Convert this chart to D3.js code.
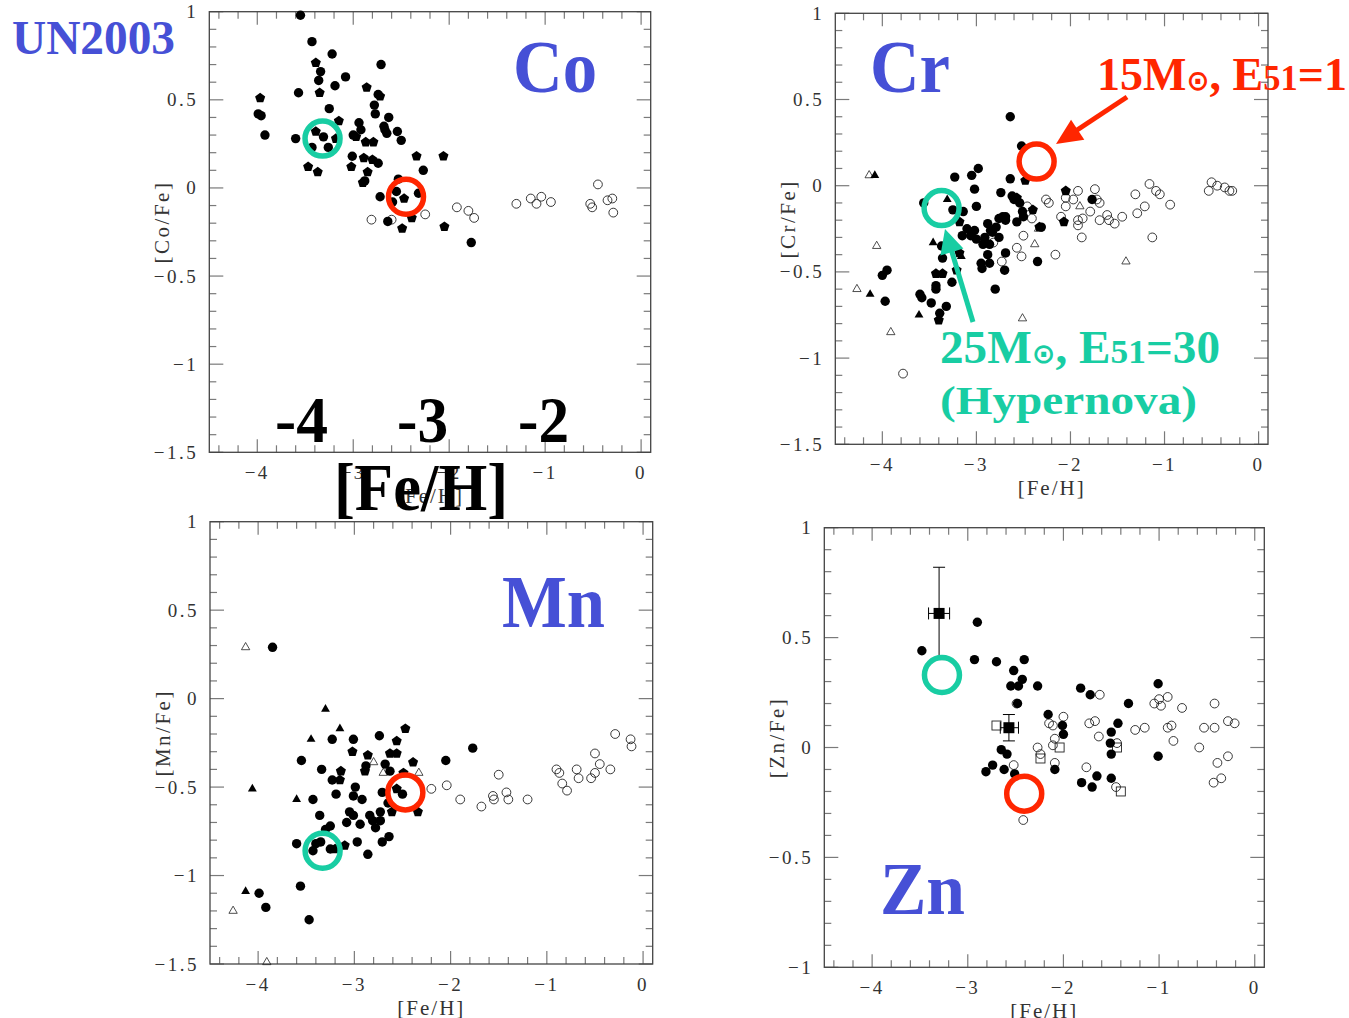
<!DOCTYPE html>
<html><head><meta charset="utf-8">
<script src="https://cdn.jsdelivr.net/npm/d3@7"></script>
<style>body{margin:0;background:#fff}svg{display:block}</style>
</head><body>
<script>
// ---------------- DATA ----------------
const xTickLabels = [-4,-3,-2,-1,0];
const yTicksA = [1,0.5,0,-0.5,-1,-1.5];
const yTicksZn = [1,0.5,0,-0.5,-1];

// Co panel
const coFilled = [[-3.55,0.98],[-3.43,0.83],[-3.22,0.76],[-3.34,0.66],[-3.36,0.61],[-3.08,0.63],[-2.71,0.70],[-3.19,0.58],[-3.57,0.54],[-2.74,0.53],[-3.99,0.42],[-3.96,0.41],[-3.92,0.30],[-3.25,0.45],[-2.78,0.47],[-2.77,0.42],[-2.94,0.37],[-2.63,0.40],[-2.68,0.35],[-2.67,0.33],[-2.65,0.31],[-2.92,0.33],[-2.54,0.32],[-2.50,0.27],[-3.00,0.30],[-3.60,0.28],[-3.31,0.29],[-3.26,0.23],[-3.43,0.23],[-3.01,0.18],[-2.74,0.14],[-2.88,0.04],[-2.27,0.10],[-2.53,0.05],[-2.55,-0.02],[-2.32,-0.03],[-2.72,-0.05],[-2.59,-0.08],[-2.64,-0.19],[-1.77,-0.31]];
const coPent = [[-3.39,0.71],[-3.35,0.54],[-2.86,0.57],[-2.72,0.52],[-3.97,0.51],[-3.15,0.38],[-2.97,0.29],[-3.39,0.32],[-3.18,0.28],[-2.87,0.26],[-2.79,0.26],[-2.89,0.17],[-2.80,0.16],[-3.02,0.12],[-3.47,0.12],[-3.37,0.09],[-2.85,0.09],[-2.90,0.03],[-2.34,0.18],[-2.06,0.18],[-2.47,-0.06],[-2.39,-0.17],[-2.49,-0.23],[-2.05,-0.22]];
const coOpen = [[-2.81,-0.18],[-2.60,-0.18],[-2.25,-0.15],[-1.92,-0.11],[-1.80,-0.13],[-1.74,-0.17],[-1.30,-0.09],[-1.15,-0.06],[-1.09,-0.09],[-1.04,-0.05],[-0.94,-0.08],[-0.53,-0.09],[-0.51,-0.11],[-0.45,0.02],[-0.35,-0.07],[-0.30,-0.06],[-0.29,-0.14]];

// Cr panel
const crFilled = [[-2.64,0.40],[-2.52,0.23],[-2.98,0.10],[-3.05,0.06],[-3.23,0.05],[-2.64,0.04],[-3.02,-0.02],[-2.74,-0.04],[-2.62,-0.06],[-2.60,-0.08],[-2.54,-0.10],[-3.00,-0.12],[-3.56,-0.10],[-3.25,-0.14],[-3.14,-0.15],[-2.51,-0.15],[-2.50,-0.18],[-2.69,-0.18],[-2.72,-0.18],[-2.76,-0.19],[-2.57,-0.21],[-3.10,-0.25],[-3.02,-0.26],[-2.88,-0.22],[-2.79,-0.24],[-2.69,-0.20],[-2.31,-0.24],[-3.15,-0.29],[-3.06,-0.29],[-3.00,-0.31],[-2.91,-0.30],[-2.85,-0.26],[-2.83,-0.27],[-2.76,-0.30],[-2.86,-0.34],[-2.93,-0.34],[-3.37,-0.35],[-2.88,-0.40],[-2.69,-0.39],[-3.36,-0.42],[-2.95,-0.45],[-2.86,-0.45],[-2.35,-0.44],[-2.70,-0.49],[-2.94,-0.48],[-3.43,-0.58],[-3.43,-0.60],[-3.26,-0.56],[-2.80,-0.60],[-3.95,-0.49],[-4.00,-0.52],[-3.97,-0.67],[-3.60,-0.63],[-3.58,-0.65],[-3.48,-0.68],[-3.32,-0.70],[-3.39,-0.74],[-1.77,-0.08]];
const crPent = [[-2.48,0.03],[-2.57,-0.07],[-2.40,-0.14],[-3.18,-0.21],[-3.18,-0.39],[-3.43,-0.51],[-3.36,-0.51],[-3.21,-0.49],[-3.40,-0.78],[-2.05,-0.03],[-2.07,-0.21],[-2.33,-0.24]];
const crTriFilled = [[-4.08,0.06],[-4.13,-0.63],[-3.61,-0.75],[-3.46,-0.33],[-3.31,-0.08],[-3.16,-0.41]];
const crTriOpen = [[-4.14,0.06],[-4.06,-0.35],[-4.27,-0.60],[-3.91,-0.85],[-2.38,-0.34],[-2.34,-0.25],[-1.41,-0.44],[-2.51,-0.77],[-1.90,-0.12]];
const crOpen = [[-3.78,-1.09],[-2.16,-0.40],[-2.52,-0.41],[-2.57,-0.36],[-2.50,-0.29],[-2.73,-0.44],[-2.82,-0.33],[-2.41,-0.19],[-2.46,-0.12],[-2.26,-0.08],[-2.23,-0.10],[-2.10,-0.18],[-2.05,-0.07],[-2.05,-0.12],[-1.97,-0.08],[-1.92,-0.03],[-1.92,-0.20],[-1.92,-0.23],[-1.88,-0.30],[-1.87,-0.19],[-1.79,-0.15],[-1.74,-0.02],[-1.72,-0.08],[-1.69,-0.10],[-1.69,-0.20],[-1.61,-0.17],[-1.59,-0.20],[-1.53,-0.22],[-1.45,-0.18],[-1.31,-0.05],[-1.29,-0.16],[-1.21,-0.12],[-1.16,0.01],[-1.09,-0.03],[-1.05,-0.05],[-0.94,-0.11],[-1.13,-0.30],[-0.53,-0.03],[-0.50,0.02],[-0.44,0.00],[-0.36,-0.01],[-0.31,-0.03],[-0.28,-0.03]];

// Mn panel
const mnFilled = [[-3.85,0.29],[-3.55,-0.35],[-3.34,-0.40],[-3.23,-0.23],[-3.01,-0.23],[-2.74,-0.21],[-2.88,-0.38],[-2.68,-0.37],[-2.63,-0.41],[-2.05,-0.35],[-1.77,-0.28],[-3.23,-0.46],[-2.99,-0.50],[-3.01,-0.55],[-3.19,-0.54],[-3.43,-0.57],[-2.92,-0.57],[-2.71,-0.53],[-2.50,-0.54],[-3.05,-0.64],[-3.01,-0.66],[-2.65,-0.59],[-2.73,-0.64],[-2.84,-0.66],[-2.81,-0.69],[-2.73,-0.69],[-2.78,-0.73],[-2.94,-0.71],[-3.08,-0.70],[-3.25,-0.72],[-3.30,-0.74],[-3.36,-0.66],[-2.97,-0.81],[-2.64,-0.78],[-2.71,-0.81],[-2.86,-0.88],[-3.60,-0.82],[-3.40,-0.82],[-3.35,-0.81],[-3.43,-0.86],[-3.25,-0.85],[-3.56,-1.06],[-3.99,-1.10],[-3.92,-1.18],[-3.47,-1.25]];
const mnPent = [[-3.02,-0.30],[-2.86,-0.32],[-2.89,-0.41],[-2.63,-0.31],[-2.56,-0.31],[-2.56,-0.24],[-2.47,-0.17],[-2.39,-0.36],[-2.49,-0.42],[-3.14,-0.41],[-3.15,-0.46],[-2.56,-0.51],[-2.61,-0.64],[-3.20,-0.85],[-3.10,-0.83],[-2.34,-0.64]];
const mnTriFilled = [[-3.30,-0.06],[-3.15,-0.17],[-3.45,-0.23],[-4.06,-0.51],[-3.60,-0.57],[-4.13,-1.09]];
const mnTriOpen = [[-4.13,0.29],[-2.80,-0.36],[-2.70,-0.42],[-2.33,-0.42],[-4.26,-1.20],[-3.91,-1.49]];
const mnOpen = [[-2.20,-0.51],[-2.04,-0.49],[-1.90,-0.57],[-1.68,-0.61],[-1.56,-0.55],[-1.55,-0.57],[-1.50,-0.43],[-1.42,-0.53],[-1.40,-0.57],[-1.20,-0.57],[-0.90,-0.40],[-0.87,-0.42],[-0.84,-0.48],[-0.79,-0.52],[-0.69,-0.40],[-0.67,-0.45],[-0.54,-0.45],[-0.50,-0.42],[-0.50,-0.31],[-0.45,-0.37],[-0.34,-0.40],[-0.29,-0.20],[-0.13,-0.23],[-0.12,-0.27]];

// Zn panel
const znFilled = [[-3.48,0.44],[-2.90,0.57],[-2.93,0.40],[-2.70,0.39],[-2.41,0.40],[-2.52,0.35],[-2.43,0.31],[-2.55,0.28],[-2.47,0.28],[-2.27,0.28],[-2.48,0.20],[-2.16,0.15],[-2.01,0.10],[-2.00,0.06],[-1.82,0.27],[-1.72,0.24],[-1.32,0.20],[-1.01,0.29],[-1.43,0.11],[-1.50,0.07],[-1.51,0.02],[-1.50,-0.03],[-1.50,-0.14],[-1.01,-0.04],[-2.65,-0.01],[-2.59,-0.03],[-2.74,-0.08],[-2.81,-0.11],[-2.62,-0.10],[-2.51,-0.12],[-2.09,-0.10],[-1.81,-0.16],[-1.70,-0.18],[-1.65,-0.13]];
const znOpen = [[-2.49,0.20],[-2.52,-0.08],[-2.42,-0.33],[-2.27,0.00],[-2.24,-0.03],[-2.15,0.11],[-2.11,0.10],[-2.09,0.04],[-2.11,0.01],[-2.09,-0.07],[-2.00,0.14],[-1.76,-0.09],[-1.73,0.11],[-1.67,0.12],[-1.63,0.05],[-1.62,0.24],[-1.44,0.02],[-1.45,-0.18],[-1.25,0.08],[-1.15,0.09],[-1.05,0.20],[-1.00,0.22],[-0.98,0.19],[-0.91,0.23],[-0.91,0.09],[-0.87,0.10],[-0.85,0.03],[-0.76,0.18],[-0.58,0.00],[-0.53,0.09],[-0.42,0.20],[-0.42,0.09],[-0.28,0.12],[-0.21,0.11],[-0.28,-0.04],[-0.39,-0.07],[-0.43,-0.16],[-0.35,-0.14]];
const znSqOpen = [[-2.70,0.10],[-2.24,-0.05],[-2.04,0.00],[-1.44,0.00],[-1.40,-0.20]];
// [x, y, xLow, xHigh, yLow, yHigh]
const znSqFilled = [[-3.30,0.61,-3.41,-3.19,0.40,0.82],[-2.57,0.09,-2.66,-2.47,0.03,0.15]];

// model predictions (panel order: Co, Cr, Mn, Zn)
const hypernovaModel = [[-3.32,0.28],[-3.37,-0.13],[-3.33,-0.86],[-3.27,0.33]];
const normalSNModel  = [[-2.45,-0.05],[-2.36,0.14],[-2.47,-0.53],[-2.41,-0.21]];

// ---------------- DRAW ----------------
const W = 1349, H = 1018;
const svg = d3.select("body").append("svg").attr("width", W).attr("height", H);
const FONT = "'Liberation Serif', 'Times New Roman', serif";
const TEAL = "#18cda3", RED = "#ff2600", BLUE = "#4650d6";

function pentPath(r){
  const pts = d3.range(5).map(k => {
    const a = -Math.PI/2 + k*2*Math.PI/5;
    return [r*Math.cos(a), r*Math.sin(a)];
  });
  return "M" + pts.map(p => p.join(",")).join("L") + "Z";
}
const fmt = v => (v < 0 ? "\u2212" : "") + Math.abs(v);

const panels = [
  {box:[209.3, 11.7, 650.7, 452.3], yDom:[-1.5,1], yTicks:yTicksA, yLab:"[Co/Fe]",
   filled:coFilled, pent:coPent, open:coOpen, triF:[], triO:[], sqO:[], sqF:[]},
  {box:[835.3, 13.3, 1268, 444.3], yDom:[-1.5,1], yTicks:yTicksA, yLab:"[Cr/Fe]",
   filled:crFilled, pent:crPent, open:crOpen, triF:crTriFilled, triO:crTriOpen, sqO:[], sqF:[]},
  {box:[210, 521.7, 652.7, 964], yDom:[-1.5,1], yTicks:yTicksA, yLab:"[Mn/Fe]",
   filled:mnFilled, pent:mnPent, open:mnOpen, triF:mnTriFilled, triO:mnTriOpen, sqO:[], sqF:[]},
  {box:[824.3, 527.7, 1264.3, 967.3], yDom:[-1,1], yTicks:yTicksZn, yLab:"[Zn/Fe]",
   filled:znFilled, pent:[], open:znOpen, triF:[], triO:[], sqO:znSqOpen, sqF:znSqFilled}
];

panels.forEach((p, i) => {
  const [x0, y0, x1, y1] = p.box;
  const x = d3.scaleLinear().domain([-4.5, 0.1]).range([x0, x1]);
  const y = d3.scaleLinear().domain(p.yDom).range([y1, y0]);
  const g = svg.append("g");

  // ticks
  const tk = g.append("g").attr("stroke", "#7a7a7a").attr("stroke-width", 1.2);
  const xMinor = d3.range(-4.4, 0.05, 0.2).map(v => +v.toFixed(2));
  const yMinor = d3.range(p.yDom[0], p.yDom[1] + 0.001, 0.1).map(v => +v.toFixed(2));
  xMinor.forEach(v => {
    const major = Math.abs(v - Math.round(v)) < 1e-6;
    const L = major ? 13 : 7;
    tk.append("line").attr("x1", x(v)).attr("x2", x(v)).attr("y1", y1).attr("y2", y1 - L);
    tk.append("line").attr("x1", x(v)).attr("x2", x(v)).attr("y1", y0).attr("y2", y0 + L);
  });
  yMinor.forEach(v => {
    const major = Math.abs(v*2 - Math.round(v*2)) < 1e-6;
    const L = major ? 14 : 7;
    tk.append("line").attr("y1", y(v)).attr("y2", y(v)).attr("x1", x0).attr("x2", x0 + L);
    tk.append("line").attr("y1", y(v)).attr("y2", y(v)).attr("x1", x1).attr("x2", x1 - L);
  });
  g.append("rect").attr("x", x0).attr("y", y0).attr("width", x1 - x0).attr("height", y1 - y0)
    .attr("fill", "none").attr("stroke", "#444").attr("stroke-width", 1.3);

  // tick labels
  xTickLabels.forEach(v => {
    g.append("text").attr("x", x(v)).attr("y", y1 + 27).attr("text-anchor", "middle")
      .attr("font-family", FONT).attr("font-size", 19).attr("letter-spacing", 2.5)
      .attr("fill", "#333").text(fmt(v));
  });
  p.yTicks.forEach(v => {
    g.append("text").attr("x", x0 - 11).attr("y", y(v) + 6.5).attr("text-anchor", "end")
      .attr("font-family", FONT).attr("font-size", 19).attr("letter-spacing", 2.5)
      .attr("fill", "#333").text(fmt(v));
  });
  g.append("text").attr("x", (x0 + x1)/2).attr("y", y1 + 51).attr("text-anchor", "middle")
    .attr("font-family", FONT).attr("font-size", 21).attr("letter-spacing", 2)
    .attr("fill", "#333").text("[Fe/H]");
  const ly = (y0 + y1)/2 - 10, lx = x0 - 40;
  g.append("text").attr("transform", `translate(${lx},${ly}) rotate(-90)`).attr("text-anchor", "middle")
    .attr("font-family", FONT).attr("font-size", 21).attr("letter-spacing", 2.5)
    .attr("fill", "#333").text(p.yLab);

  // data markers
  const d = g.append("g");
  d.selectAll(".oc").data(p.open).join("circle").attr("cx", a => x(a[0])).attr("cy", a => y(a[1]))
    .attr("r", 4.4).attr("fill", "none").attr("stroke", "#222").attr("stroke-width", 0.9);
  const triF = d3.symbol(d3.symbolTriangle, 34)();
  const triO = d3.symbol(d3.symbolTriangle, 30)();
  d.selectAll(".to").data(p.triO).join("path").attr("d", triO)
    .attr("transform", a => `translate(${x(a[0])},${y(a[1])})`)
    .attr("fill", "none").attr("stroke", "#222").attr("stroke-width", 0.8);
  d.selectAll(".tf").data(p.triF).join("path").attr("d", triF)
    .attr("transform", a => `translate(${x(a[0])},${y(a[1])})`).attr("fill", "#000");
  d.selectAll(".so").data(p.sqO).join("rect").attr("x", a => x(a[0]) - 4.5).attr("y", a => y(a[1]) - 4.5)
    .attr("width", 9).attr("height", 9).attr("fill", "none").attr("stroke", "#222").attr("stroke-width", 0.9);
  d.selectAll(".fc").data(p.filled).join("circle").attr("cx", a => x(a[0])).attr("cy", a => y(a[1]))
    .attr("r", 4.7).attr("fill", "#000");
  const pp = pentPath(5.3);
  d.selectAll(".fp").data(p.pent).join("path").attr("d", pp)
    .attr("transform", a => `translate(${x(a[0])},${y(a[1])})`).attr("fill", "#000");
  p.sqF.forEach(a => {
    const e = d.append("g").attr("stroke", "#000").attr("stroke-width", 1);
    e.append("line").attr("x1", x(a[0])).attr("x2", x(a[0])).attr("y1", y(a[4])).attr("y2", y(a[5]));
    e.append("line").attr("x1", x(a[2])).attr("x2", x(a[3])).attr("y1", y(a[1])).attr("y2", y(a[1]));
    [a[4], a[5]].forEach(v => e.append("line").attr("x1", x(a[0]) - 6).attr("x2", x(a[0]) + 6).attr("y1", y(v)).attr("y2", y(v)));
    [a[2], a[3]].forEach(v => e.append("line").attr("x1", x(v)).attr("x2", x(v)).attr("y1", y(a[1]) - 6).attr("y2", y(a[1]) + 6));
    d.append("rect").attr("x", x(a[0]) - 5.5).attr("y", y(a[1]) - 5.5).attr("width", 11).attr("height", 11).attr("fill", "#000");
  });

  // model circles
  const hn = hypernovaModel[i], sn = normalSNModel[i];
  g.append("circle").attr("cx", x(hn[0])).attr("cy", y(hn[1])).attr("r", 17.5)
    .attr("fill", "none").attr("stroke", TEAL).attr("stroke-width", 5.5);
  g.append("circle").attr("cx", x(sn[0])).attr("cy", y(sn[1])).attr("r", 17.5)
    .attr("fill", "none").attr("stroke", RED).attr("stroke-width", 5.5);
});

// ---------------- ANNOTATIONS ----------------
function bigText(txt, xp, yp, size, color, len){
  const t = svg.append("text").attr("x", xp).attr("y", yp).attr("font-family", FONT)
    .attr("font-weight", "bold").attr("font-size", size).attr("fill", color).text(txt);
  if (len) t.attr("textLength", len).attr("lengthAdjust", "spacingAndGlyphs");
  return t;
}
bigText("UN2003", 12, 54, 48, BLUE, 163);
bigText("Co", 513, 92, 74, BLUE, 84);
bigText("Cr", 870, 92, 74, BLUE, 80);
bigText("Mn", 502, 627, 74, BLUE, 103);
bigText("Zn", 880, 914, 74, BLUE, 85);
bigText("-4", 275, 442, 66, "#000", 53);
bigText("-3", 397, 442, 66, "#000", 51);
bigText("-2", 518, 442, 66, "#000", 51);
bigText("[Fe/H]", 334, 510, 68, "#000", 174);

function modelLabel(parts, xp, yp, size, color, len){
  const t = svg.append("text").attr("x", xp).attr("y", yp).attr("font-family", FONT)
    .attr("font-weight", "bold").attr("font-size", size).attr("fill", color)
    .attr("textLength", len).attr("lengthAdjust", "spacingAndGlyphs");
  parts.forEach(pt => {
    const s = t.append("tspan").text(pt[0]);
    if (pt[1]) s.attr("font-size", size * pt[1]);
    if (pt[2]) s.attr("font-family", pt[2]);
  });
}
modelLabel([["15M"],["\u2299",0.6,"DejaVu Sans"],[", E"],["51",0.75],["=1"]], 1097, 90, 47, RED, 250);
modelLabel([["25M"],["\u2299",0.6,"DejaVu Sans"],[", E"],["51",0.75],["=30"]], 940, 363, 46, TEAL, 280);
modelLabel([["(Hypernova)"]], 940, 414, 40, TEAL, 257);

function arrow(xa, ya, xb, yb, color, w, hl, hw){
  const dx = xb - xa, dy = yb - ya, L = Math.hypot(dx, dy);
  const ux = dx/L, uy = dy/L, nx = -uy, ny = ux;
  const bx = xb - ux*hl, by = yb - uy*hl;
  svg.append("line").attr("x1", xa).attr("y1", ya).attr("x2", bx + ux*2).attr("y2", by + uy*2)
    .attr("stroke", color).attr("stroke-width", w);
  svg.append("path").attr("d", `M${xb},${yb}L${bx + nx*hw/2},${by + ny*hw/2}L${bx - nx*hw/2},${by - ny*hw/2}Z`)
    .attr("fill", color);
}
arrow(1127, 97, 1056, 144, RED, 5, 26, 24);
arrow(973, 322, 945, 229, TEAL, 5, 24, 24);
</script>
</body></html>
